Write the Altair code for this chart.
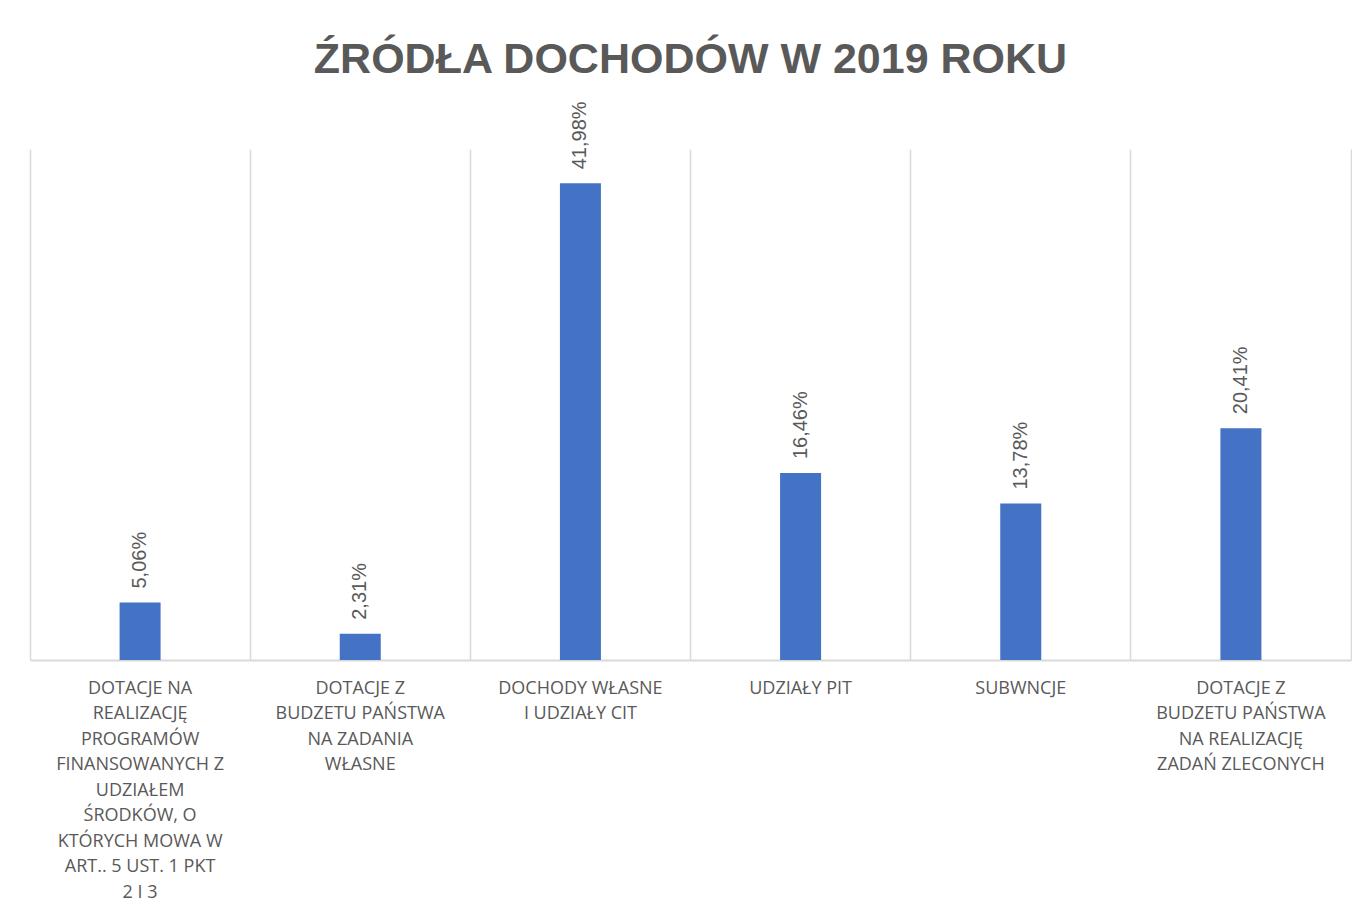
import altair as alt
import pandas as pd

categories = [
    "DOTACJE NA|REALIZACJĘ|PROGRAMÓW|FINANSOWANYCH Z|UDZIAŁEM|ŚRODKÓW, O|KTÓRYCH MOWA W|ART.. 5 UST. 1 PKT|2 I 3",
    "DOTACJE Z|BUDZETU PAŃSTWA|NA ZADANIA|WŁASNE",
    "DOCHODY WŁASNE|I UDZIAŁY CIT",
    "UDZIAŁY PIT",
    "SUBWNCJE",
    "DOTACJE Z|BUDZETU PAŃSTWA|NA REALIZACJĘ|ZADAŃ ZLECONYCH",
]
values = [5.06, 2.31, 41.98, 16.46, 13.78, 20.41]
value_labels = ["5,06%", "2,31%", "41,98%", "16,46%", "13,78%", "20,41%"]

df = pd.DataFrame({"cat": categories, "val": values, "lab": value_labels})

GRID = "#d9d9d9"
TEXT = "#595959"

x_enc = alt.X(
    "cat:N",
    sort=categories,
    scale=alt.Scale(paddingInner=0, paddingOuter=0),
    axis=alt.Axis(
        title=None,
        labelAngle=0,
        labelExpr="split(datum.label, '|')",
        labelFont="Open Sans",
        labelFontSize=18,
        labelColor=TEXT,
        labelLineHeight=25.5,
        labelPadding=19,
        labelLimit=400,
        labelBaseline="top",
        ticks=False,
        grid=True,
        gridColor=GRID,
        gridWidth=1.5,
        bandPosition=0,
        domainColor=GRID,
        domainWidth=2,
    ),
)
y_enc = alt.Y(
    "val:Q",
    scale=alt.Scale(domain=[0, 45], nice=False),
    axis=alt.Axis(
        orient="right",
        title=None,
        labels=False,
        ticks=False,
        grid=False,
        domain=True,
        domainColor=GRID,
        domainWidth=1.5,
    ),
)

base = alt.Chart(df)

bars = base.mark_bar(color="#4472C4", size=41).encode(x=x_enc, y=y_enc)

texts = base.mark_text(
    angle=270,
    align="left",
    baseline="middle",
    dx=14,
    font="Liberation Sans",
    fontSize=20,
    color=TEXT,
).encode(x=alt.X("cat:N", sort=categories), y=alt.Y("val:Q"), text="lab:N")

chart = (
    alt.layer(bars, texts)
    .properties(
        width=1321,
        height=511,
        title=alt.TitleParams(
            "ŹRÓDŁA DOCHODÓW W 2019 ROKU",
            font="Liberation Sans",
            fontSize=43,
            fontWeight="bold",
            color=TEXT,
            anchor="middle",
            offset=19,
        ),
        padding={"left": 22, "top": 31, "right": 1, "bottom": 0},
    )
    .configure_view(stroke=None)
)

chart.save("out.html", embed_options={"renderer": "svg", "actions": False})
